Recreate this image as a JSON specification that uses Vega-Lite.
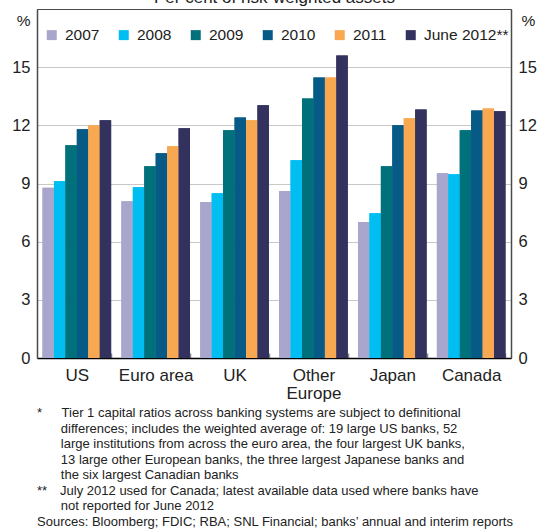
{
  "$schema": "https://vega.github.io/schema/vega-lite/v6.json",
  "width": 474,
  "height": 349,
  "autosize": {"type": "none"},
  "padding": {"left": 37, "top": 9, "right": 40, "bottom": 172},
  "background": "white",
  "config": {
    "font": "Liberation Sans",
    "view": {"stroke": "#4a4a4a", "strokeWidth": 1},
    "axis": {"labelFont": "Liberation Sans", "titleFont": "Liberation Sans", "labelColor": "#222", "titleColor": "#222", "titleFontWeight": "normal"}
  },
  "title": {
    "text": [
      "*\u2002\u2002\u2002Tier 1 capital ratios across banking systems are subject to definitional",
      "\u200B\u2003\u2007\u2008differences; includes the weighted average of: 19 large US banks, 52",
      "\u200B\u2003\u2007\u2008large institutions from across the euro area, the four largest UK banks,",
      "\u200B\u2003\u2007\u200813 large other European banks, the three largest Japanese banks and",
      "\u200B\u2003\u2007\u2008the six largest Canadian banks",
      "**\u2003July 2012 used for Canada; latest available data used where banks have",
      "\u200B\u2003\u2007\u2008not reported for June 2012",
      "Sources: Bloomberg; FDIC; RBA; SNL Financial; banks’ annual and interim reports"
    ],
    "orient": "bottom",
    "anchor": "start",
    "frame": "group",
    "align": "left",
    "fontSize": 13,
    "lineHeight": 15.5,
    "fontWeight": "normal",
    "color": "#222",
    "font": "Liberation Sans",
    "offset": 6
  },
  "data": {
    "values": [
      {"region": "US", "year": "2007", "value": 8.78},
      {"region": "US", "year": "2008", "value": 9.12},
      {"region": "US", "year": "2009", "value": 10.97},
      {"region": "US", "year": "2010", "value": 11.8},
      {"region": "US", "year": "2011", "value": 12.0},
      {"region": "US", "year": "June 2012**", "value": 12.26},
      {"region": "Euro area", "year": "2007", "value": 8.09},
      {"region": "Euro area", "year": "2008", "value": 8.81},
      {"region": "Euro area", "year": "2009", "value": 9.89},
      {"region": "Euro area", "year": "2010", "value": 10.56},
      {"region": "Euro area", "year": "2011", "value": 10.92},
      {"region": "Euro area", "year": "June 2012**", "value": 11.85},
      {"region": "UK", "year": "2007", "value": 8.04},
      {"region": "UK", "year": "2008", "value": 8.5},
      {"region": "UK", "year": "2009", "value": 11.74},
      {"region": "UK", "year": "2010", "value": 12.41},
      {"region": "UK", "year": "2011", "value": 12.26},
      {"region": "UK", "year": "June 2012**", "value": 13.03},
      {"region": "Other Europe", "year": "2007", "value": 8.61},
      {"region": "Other Europe", "year": "2008", "value": 10.2},
      {"region": "Other Europe", "year": "2009", "value": 13.39},
      {"region": "Other Europe", "year": "2010", "value": 14.47},
      {"region": "Other Europe", "year": "2011", "value": 14.47},
      {"region": "Other Europe", "year": "June 2012**", "value": 15.6},
      {"region": "Japan", "year": "2007", "value": 7.01},
      {"region": "Japan", "year": "2008", "value": 7.47},
      {"region": "Japan", "year": "2009", "value": 9.89},
      {"region": "Japan", "year": "2010", "value": 12.0},
      {"region": "Japan", "year": "2011", "value": 12.36},
      {"region": "Japan", "year": "June 2012**", "value": 12.82},
      {"region": "Canada", "year": "2007", "value": 9.53},
      {"region": "Canada", "year": "2008", "value": 9.48},
      {"region": "Canada", "year": "2009", "value": 11.74},
      {"region": "Canada", "year": "2010", "value": 12.77},
      {"region": "Canada", "year": "2011", "value": 12.87},
      {"region": "Canada", "year": "June 2012**", "value": 12.72}
    ]
  },
  "layer": [
    {
      "mark": {"type": "bar"},
      "encoding": {
        "x": {
          "field": "region", "type": "nominal",
          "sort": ["US", "Euro area", "UK", "Other Europe", "Japan", "Canada"],
          "scale": {"paddingInner": 0.13, "paddingOuter": 0.07},
          "axis": {
            "orient": "bottom", "title": null,
            "domainColor": "#000", "domainWidth": 1.5,
            "ticks": true, "tickSize": -5, "tickColor": "#888", "tickWidth": 1.5, "tickBand": "extent",
            "labelFontSize": 17, "labelPadding": 14, "labelAngle": 0, "labelLineHeight": 18,
            "labelExpr": "datum.value == 'Other Europe' ? ['Other', 'Europe'] : datum.label",
            "grid": false
          }
        },
        "xOffset": {
          "field": "year", "type": "nominal",
          "sort": ["2007", "2008", "2009", "2010", "2011", "June 2012**"],
          "scale": {"paddingInner": 0, "paddingOuter": 0}
        },
        "y": {
          "field": "value", "type": "quantitative",
          "scale": {"domain": [0, 18], "nice": false},
          "axis": {
            "orient": "left", "values": [0, 3, 6, 9, 12, 15],
            "title": "%", "titleAngle": 0, "titleAlign": "right", "titleBaseline": "middle",
            "titleX": -7, "titleY": 11.5, "titleFontSize": 15.5,
            "labelFontSize": 16.5, "labelPadding": 7, "ticks": false,
            "domainColor": "#4a4a4a", "domainWidth": 1.5,
            "grid": true, "gridColor": "#c8c8c8", "gridWidth": 1
          }
        },
        "color": {
          "field": "year", "type": "nominal",
          "sort": ["2007", "2008", "2009", "2010", "2011", "June 2012**"],
          "scale": {
            "domain": ["2007", "2008", "2009", "2010", "2011", "June 2012**"],
            "range": ["#a8a6cc", "#00bdf2", "#00707a", "#065a85", "#f9a852", "#33325f"]
          },
          "legend": {
            "title": null, "orient": "none", "legendX": 7, "legendY": 18,
            "direction": "horizontal", "symbolType": "square", "symbolSize": 100,
            "symbolStrokeWidth": 0, "labelFontSize": 15.5, "labelOffset": 5.5,
            "columnPadding": 16, "padding": 0, "labelColor": "#222", "labelFont": "Liberation Sans"
          }
        }
      }
    },
    {
      "mark": {"type": "bar"},
      "encoding": {
        "x": {
          "field": "region", "type": "nominal",
          "sort": ["US", "Euro area", "UK", "Other Europe", "Japan", "Canada"],
          "axis": {
            "orient": "top", "title": "Per cent of risk-weighted assets",
            "titleFontSize": 17, "titleBaseline": "alphabetic", "titleY": -7,
            "labels": false, "ticks": false, "domain": false, "grid": false
          }
        },
        "xOffset": {
          "field": "year", "type": "nominal",
          "sort": ["2007", "2008", "2009", "2010", "2011", "June 2012**"]
        },
        "y": {
          "field": "value", "type": "quantitative",
          "axis": {
            "orient": "right", "values": [0, 3, 6, 9, 12, 15],
            "title": "%", "titleAngle": 0, "titleAlign": "left", "titleBaseline": "middle",
            "titleX": 10, "titleY": 11.5, "titleFontSize": 15.5,
            "labelFontSize": 16.5, "labelPadding": 7, "ticks": false,
            "domainColor": "#4a4a4a", "domainWidth": 1.5, "grid": false
          }
        },
        "color": {
          "field": "year", "type": "nominal",
          "sort": ["2007", "2008", "2009", "2010", "2011", "June 2012**"]
        }
      }
    }
  ],
  "resolve": {"axis": {"x": "independent", "y": "independent"}}
}
